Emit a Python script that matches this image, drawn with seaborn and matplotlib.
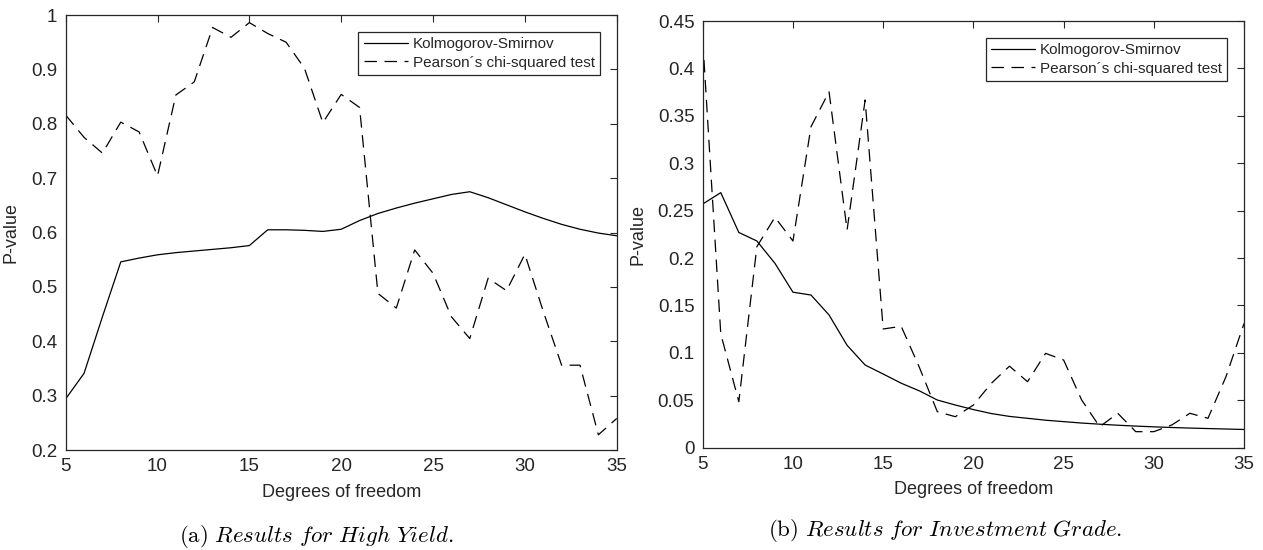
import numpy as np
import pandas as pd
import matplotlib
matplotlib.use("Agg")
import matplotlib.pyplot as plt
import seaborn as sns

dof = list(range(5, 36))

hy_ks = [0.294, 0.341, 0.445, 0.546, 0.553, 0.559, 0.563, 0.566, 0.569, 0.572, 0.576,
         0.605, 0.605, 0.604, 0.602, 0.606, 0.622, 0.635, 0.645, 0.654, 0.662, 0.670,
         0.675, 0.664, 0.651, 0.638, 0.626, 0.615, 0.606, 0.599, 0.594]
hy_chi = [0.816, 0.775, 0.746, 0.803, 0.785, 0.704, 0.853, 0.877, 0.977, 0.959, 0.986,
          0.966, 0.950, 0.902, 0.802, 0.854, 0.830, 0.488, 0.461, 0.568, 0.525, 0.445,
          0.405, 0.516, 0.493, 0.560, 0.455, 0.356, 0.356, 0.228, 0.258]

ig_ks = [0.257, 0.269, 0.227, 0.218, 0.1945, 0.164, 0.161, 0.140, 0.108, 0.0872, 0.0777,
         0.068, 0.060, 0.0503, 0.045, 0.0402, 0.036, 0.033, 0.031, 0.029, 0.0275, 0.026,
         0.0248, 0.0237, 0.0228, 0.022, 0.0213, 0.0207, 0.0202, 0.0197, 0.0192]
ig_chi = [0.430, 0.120, 0.0485, 0.212, 0.243, 0.218, 0.3385, 0.3754, 0.2296, 0.3667, 0.1252,
          0.128, 0.085, 0.038, 0.0327, 0.045, 0.068, 0.086, 0.0696, 0.0995, 0.0925, 0.0503,
          0.0221, 0.0363, 0.0169, 0.0169, 0.024, 0.0363, 0.031, 0.075, 0.131]

series_names = ["Kolmogorov-Smirnov", "Pearson\u00b4s chi-squared test"]
xlabel = "Degrees of freedom"
ylabel = "P-value"
captions = [r"$\mathrm{(a)}\ \mathit{Results\ for\ High\ Yield.}$",
            r"$\mathrm{(b)}\ \mathit{Results\ for\ Investment\ Grade.}$"]

hy_yticks = [0.2, 0.3, 0.4, 0.5, 0.6, 0.7, 0.8, 0.9, 1.0]
hy_yticklabels = ["0.2", "0.3", "0.4", "0.5", "0.6", "0.7", "0.8", "0.9", "1"]
ig_yticks = [0, 0.05, 0.1, 0.15, 0.2, 0.25, 0.3, 0.35, 0.4, 0.45]
ig_yticklabels = ["0", "0.05", "0.1", "0.15", "0.2", "0.25", "0.3", "0.35", "0.4", "0.45"]
xticks = [5, 10, 15, 20, 25, 30, 35]

sns.set_theme(style="white")
plt.rcParams["font.family"] = ["Liberation Sans", "DejaVu Sans"]
plt.rcParams["mathtext.fontset"] = "cm"
axc = "#262626"
plt.rcParams["text.color"] = axc

fig = plt.figure(figsize=(12.63, 5.5), dpi=100)
ax1 = fig.add_axes([0.052, 0.1818, 0.4363, 0.7909])
ax2 = fig.add_axes([0.5564, 0.186, 0.4286, 0.7758])

def draw(ax, ks, chi, yticks, ylabels, ylim):
    df = pd.DataFrame({"dof": dof * 2, "p": ks + chi,
                       "test": [series_names[0]] * len(dof) + [series_names[1]] * len(dof)})
    sns.lineplot(data=df, x="dof", y="p", style="test", color="black",
                 dashes={series_names[0]: "", series_names[1]: (10, 6)},
                 linewidth=0.9, ax=ax, legend=False)
    ax.set_xlim(5, 35)
    ax.set_ylim(*ylim)
    ax.set_xticks(xticks)
    ax.set_xticklabels([str(t) for t in xticks])
    ax.set_yticks(yticks)
    ax.set_yticklabels(ylabels)
    ax.tick_params(direction="in", length=5, width=0.8, colors=axc, labelsize=13.5,
                   top=True, right=True, labelcolor=axc, pad=6)
    for s in ax.spines.values():
        s.set_visible(True)
        s.set_color(axc)
        s.set_linewidth(0.9)
    ax.set_xlabel(xlabel, fontsize=13, color=axc, labelpad=6)
    ax.set_ylabel(ylabel, fontsize=13, color=axc, labelpad=8)
    leg = ax.legend(ax.get_lines()[:2], series_names, loc="upper right", fontsize=11,
                    frameon=True, fancybox=False, framealpha=1, edgecolor=axc,
                    handlelength=2.9, borderaxespad=1.1, borderpad=0.35,
                    labelspacing=0.3, handletextpad=0.3)
    leg.get_frame().set_linewidth(0.9)

draw(ax1, hy_ks, hy_chi, hy_yticks, hy_yticklabels, (0.2, 1.0))
draw(ax2, ig_ks, ig_chi, ig_yticks, ig_yticklabels, (0, 0.45))

fig.text(0.2502, 0.024, captions[0], ha="center", va="center", fontsize=16.5, color="black")
fig.text(0.7482, 0.036, captions[1], ha="center", va="center", fontsize=16.5, color="black")

fig.savefig("out.png", dpi=100)
